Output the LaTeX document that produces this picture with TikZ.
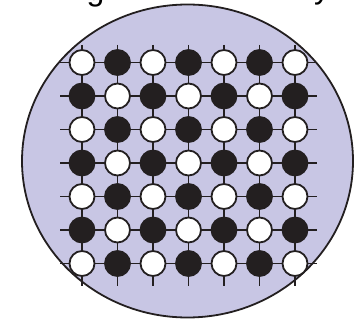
\documentclass[tikz,border=0pt]{standalone}
\usepackage{fontspec}
\setmainfont{Liberation Sans}
\usepackage{xcolor}
\definecolor{wafer}{RGB}{200,198,228}
\definecolor{dotblack}{RGB}{35,31,32}

\begin{document}
\begin{tikzpicture}[x=1pt,y=-1pt,
    dot/.style={circle,draw=dotblack,line width=1.8pt,minimum size=25pt,inner sep=0pt},
    whitedot/.style={dot,fill=white},
    blackdot/.style={dot,fill=dotblack},
    link/.style={draw=dotblack,line width=1.8pt}]
    \useasboundingbox (0,0) rectangle (356,320);

    % cut-off title letters
    \node[font=\fontsize{32}{36}\selectfont,anchor=base,inner sep=0pt] (tg) at (95.5,1) {g};
    \node[font=\fontsize{32}{36}\selectfont,anchor=base,inner sep=0pt] (ty) at (322,-1) {y};

    % wafer
    \filldraw[fill=wafer,draw=dotblack,line width=1.8pt] (187.5,161) ellipse [x radius=165.5, y radius=156.5];

    % dots
    \foreach \r in {0,...,6} {
        \foreach \c in {0,...,6} {
            \pgfmathtruncatemacro\odd{mod(\r+\c,2)}
            \ifnum\odd=0
                \node[whitedot] (d-\r-\c) at (82+35.5*\c, 62.5+33.5*\r) {};
            \else
                \node[blackdot] (d-\r-\c) at (82+35.5*\c, 62.5+33.5*\r) {};
            \fi
        }
    }

    % stub ends
    \foreach \r in {0,...,6} {
        \coordinate (l-\r) at (60, 62.5+33.5*\r);
        \coordinate (rt-\r) at (317, 62.5+33.5*\r);
    }
    \foreach \c in {0,...,6} {
        \coordinate (t-\c) at (82+35.5*\c, 45);
        \coordinate (b-\c) at (82+35.5*\c, 286);
    }

    % links
    \foreach \r in {0,...,6} {
        \foreach \c [evaluate=\c as \n using int(\c+1)] in {0,...,5} {
            \draw[link] (d-\r-\c) -- (d-\r-\n);
            \draw[link] (d-\c-\r) -- (d-\n-\r);
        }
        \draw[link] (l-\r) -- (d-\r-0);
        \draw[link] (d-\r-6) -- (rt-\r);
        \draw[link] (t-\r) -- (d-0-\r);
        \draw[link] (d-6-\r) -- (b-\r);
    }
\end{tikzpicture}
\end{document}
